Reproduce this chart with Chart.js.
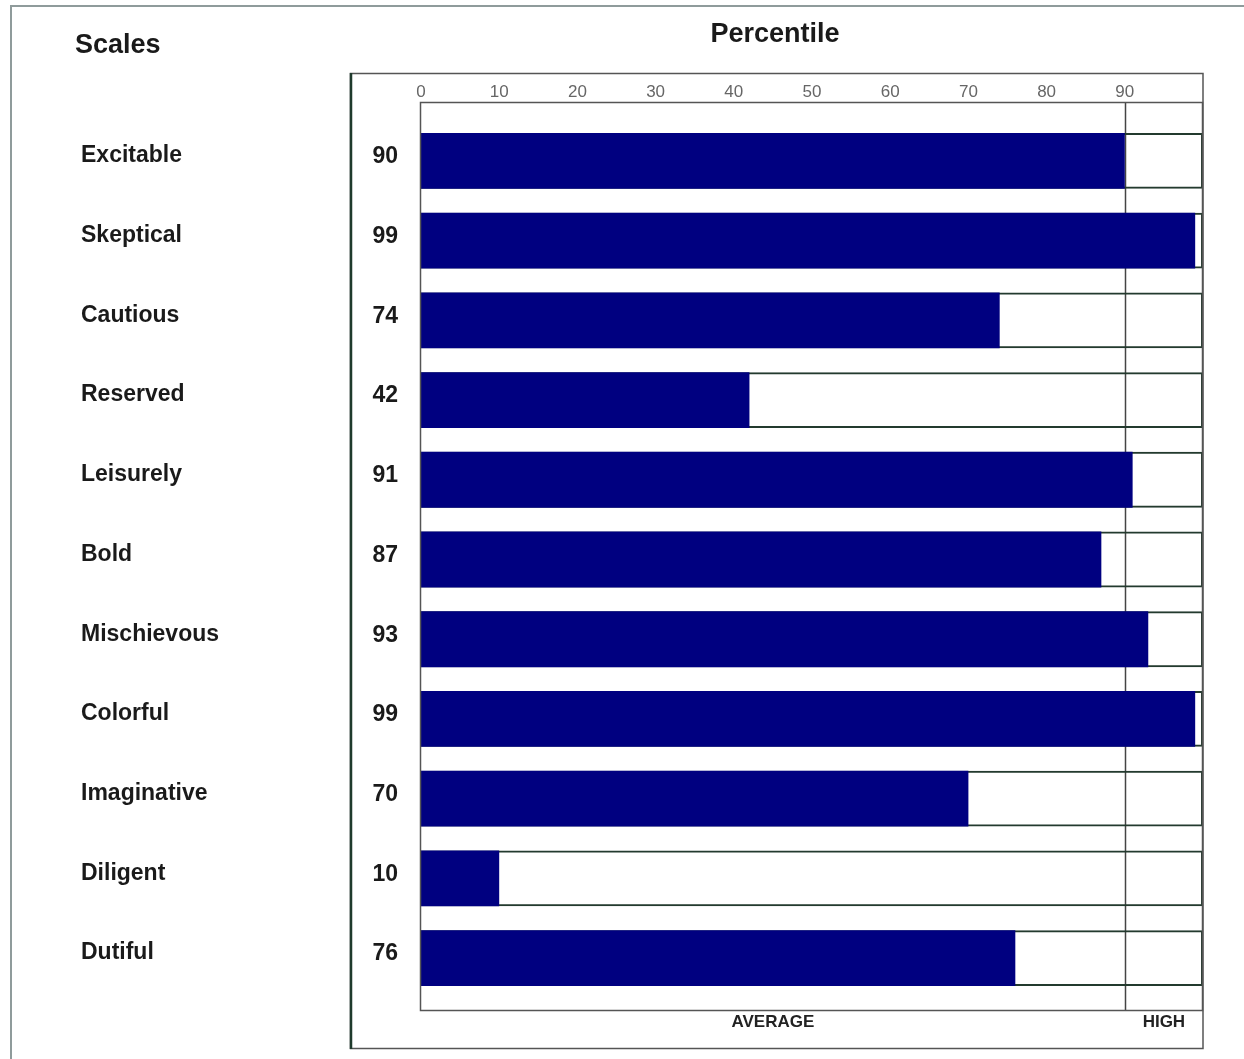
<!DOCTYPE html>
<html>
<head>
<meta charset="utf-8">
<script src="https://cdn.jsdelivr.net/npm/chart.js@4"></script>
<style>
html, body { margin: 0; padding: 0; background: #fff; }
#wrap { width: 1244px; height: 1059px; position: relative; }
</style>
</head>
<body>
<div id="wrap"><canvas id="c" width="1244" height="1059"></canvas></div>
<script>
// scales, read top to bottom
const scaleNames = ["Excitable","Skeptical","Cautious","Reserved","Leisurely","Bold","Mischievous","Colorful","Imaginative","Diligent","Dutiful"];
const percentiles = [90,99,74,42,91,87,93,99,70,10,76];
const fullScale = [100,100,100,100,100,100,100,100,100,100,100];
const bandEdges = [0,90,100];
const bandNames = ["AVERAGE","HIGH"];

const FONT = "'Liberation Sans', Arial, sans-serif";

const framePlugin = {
	id: "frame",
	beforeDatasetsDraw: function (chart) {
		const ctx = chart.ctx, a = chart.chartArea, x = chart.scales.x;
		const top = a.top - 19, bottom = a.bottom + 12;
		ctx.save();
		// line at the high band edge
		ctx.strokeStyle = "#444";
		ctx.lineWidth = 1.5;
		const px = Math.round(x.getPixelForValue(bandEdges[1])) + 0.5;
		ctx.beginPath();
		ctx.moveTo(px, top); ctx.lineTo(px, bottom);
		ctx.stroke();
		ctx.restore();
	},
	afterDraw: function (chart) {
		const ctx = chart.ctx, a = chart.chartArea;
		const top = a.top - 19, bottom = a.bottom + 12;
		ctx.save();
		// outer page frame
		ctx.strokeStyle = "#8f9b9b";
		ctx.lineWidth = 2;
		ctx.beginPath();
		ctx.moveTo(11, 1059); ctx.lineTo(11, 6); ctx.lineTo(1244, 6);
		ctx.stroke();
		// inner box
		ctx.strokeStyle = "#555";
		ctx.lineWidth = 1.5;
		ctx.strokeRect(350.5, 73.5, a.right - 350.5, 975);
		ctx.strokeStyle = "#1f3a2c";
		ctx.lineWidth = 2.5;
		ctx.beginPath();
		ctx.moveTo(351, 73); ctx.lineTo(351, 1049);
		ctx.stroke();
		// plot frame
		ctx.strokeStyle = "#555";
		ctx.lineWidth = 1.5;
		ctx.strokeRect(a.left - 0.5, top + 0.5, a.right - a.left, bottom - top);
		// headings
		ctx.fillStyle = "#1a1a1a";
		ctx.font = "bold 27px " + FONT;
		ctx.textBaseline = "middle";
		ctx.textAlign = "left";
		ctx.fillText("Scales", 75, 46);
		ctx.textAlign = "center";
		ctx.fillText("Percentile", 775, 35);
		ctx.restore();
	}
};

new Chart(document.getElementById("c"), {
	type: "bar",
	data: {
		labels: scaleNames,
		datasets: [{
			label: "Percentile",
			data: percentiles,
			backgroundColor: "#000080",
			borderWidth: 0,
			order: 0
		}, {
			label: "Scale",
			data: fullScale,
			backgroundColor: "rgba(0,0,0,0)",
			borderColor: "#233a2e",
			borderWidth: 2,
			borderSkipped: "start",
			order: 1
		}]
	},
	options: {
		indexAxis: "y",
		responsive: false,
		animation: false,
		grouped: false,
		barPercentage: 0.7,
		categoryPercentage: 1.0,
		layout: { padding: { top: 73, left: 81, right: 41, bottom: 11 } },
		plugins: { legend: { display: false }, tooltip: { enabled: false } },
		scales: {
			x: {
				position: "top",
				min: 0, max: 100,
				border: { display: false },
				grid: { display: false },
				ticks: {
					stepSize: 10,
					padding: 10,
					color: "#666",
					font: { family: FONT, size: 17 },
					callback: function (v) { return v === 100 ? "" : v; }
				},
				afterFit: function (s) { s.height = 48; }
			},
			x2: {
				position: "bottom",
				type: "linear",
				min: 0, max: 100,
				border: { display: false },
				grid: { display: false },
				afterBuildTicks: function (s) {
					s.ticks = bandNames.map(function (n, i) {
						return { value: (bandEdges[i] + bandEdges[i + 1]) / 2 };
					});
				},
				ticks: {
					padding: 6,
					color: "#222",
					font: { family: FONT, size: 17, weight: "bold" },
					callback: function (v, i) { return bandNames[i]; }
				},
				afterFit: function (s) { s.height = 50; }
			},
			y: {
				position: "left",
				weight: 0,
				border: { display: false },
				grid: { display: false },
				ticks: {
					padding: 15,
					labelOffset: -4,
					color: "#1a1a1a",
					font: { family: FONT, size: 23, weight: "bold" },
					callback: function (v, i) { return percentiles[i]; }
				},
				afterFit: function (s) { s.width = 81; }
			},
			yNames: {
				type: "category",
				labels: scaleNames,
				position: "left",
				weight: 1,
				offset: true,
				border: { display: false },
				grid: { display: false },
				ticks: {
					crossAlign: "far",
					labelOffset: -5,
					color: "#1a1a1a",
					font: { family: FONT, size: 23, weight: "bold" }
				},
				afterFit: function (s) { s.width = 259; }
			}
		}
	},
	plugins: [framePlugin]
});
</script>
</body>
</html>
